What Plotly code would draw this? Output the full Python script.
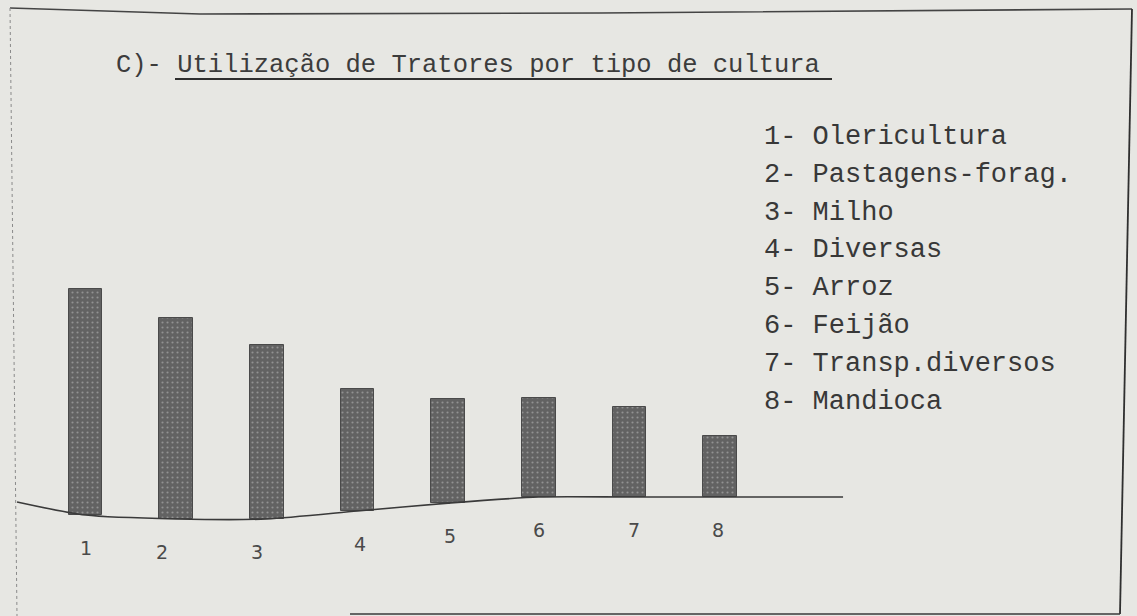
import plotly.graph_objects as go

# Tractor use by crop type (relative bar heights, no numeric scale on the sheet)
categorias = ["Olericultura", "Pastagens-forag.", "Milho", "Diversas",
              "Arroz", "Feijão", "Transp.diversos", "Mandioca"]
numeros = [1, 2, 3, 4, 5, 6, 7, 8]
utilizacao = [100, 89, 77, 54, 46, 44, 40, 27]
# sag of the hand-ruled baseline under each bar (same units as the bars)
curvatura_base = [8.0, 9.7, 9.7, 6.2, 2.7, 0.0, 0.0, 0.0]

W, H = 1137, 616
PAPER = "#e7e7e3"
INK = "#3a3a3a"
MONO = "Liberation Mono, DejaVu Sans Mono, monospace"


def px(x, y):
    """Page pixel -> paper fraction."""
    return x / W, 1 - y / H


fig = go.Figure()

# bars, each standing on the curved baseline
fig.add_trace(go.Bar(
    x=numeros,
    y=utilizacao,
    base=[-s for s in curvatura_base],
    width=0.37,
    marker=dict(
        color="#656565",
        line=dict(color="#4a4a4a", width=1),
        pattern=dict(shape=".", fgcolor="#929292", bgcolor="#626262",
                     size=5, solidity=0.14, fillmode="replace"),
    ),
    hoverinfo="skip",
    showlegend=False,
))

# hand-drawn baseline
x_ini, x_fim = 0.244, 9.357
fig.add_trace(go.Scatter(
    x=[x_ini] + numeros + [x_fim],
    y=[-2.2] + [-s for s in curvatura_base] + [0.0],
    mode="lines",
    line=dict(color=INK, width=1.6, shape="spline", smoothing=0.7),
    hoverinfo="skip",
    showlegend=False,
))

annotations = []

# bar numbers below the baseline
desloc_x = [0, -14, -10, 3, 2, 0, 5, -2]
for n, s, dx in zip(numeros, curvatura_base, desloc_x):
    annotations.append(dict(
        x=n, y=-s, xref="x", yref="y", text=str(n), showarrow=False,
        xshift=dx, yshift=-33, yanchor="middle",
        font=dict(family="DejaVu Sans, sans-serif", size=19, color="#4a4a4a"),
    ))

# title
tx, ty = px(114, 65)
annotations.append(dict(
    x=tx, y=ty, xref="paper", yref="paper", xanchor="left", yanchor="middle",
    text="C)- Utilização de Tratores por tipo de cultura", showarrow=False,
    font=dict(family=MONO, size=25.5, color="#3c3c3c"),
))

# numbered key
for i, (n, nome) in enumerate(zip(numeros, categorias)):
    lx, ly = px(762, 137 + i * 37.8)
    annotations.append(dict(
        x=lx, y=ly, xref="paper", yref="paper", xanchor="left", yanchor="middle",
        text=f"{n}- {nome}", showarrow=False,
        font=dict(family=MONO, size=27, color="#383838"),
    ))

shapes = []

# underline of the title
u0, uy = px(175, 79)
u1, _ = px(832, 79)
shapes.append(dict(type="line", xref="paper", yref="paper",
                   x0=u0, x1=u1, y0=uy, y1=uy,
                   line=dict(color="#2e2e2e", width=2)))


def caminho(pontos):
    partes = []
    for k, (x, y) in enumerate(pontos):
        fx, fy = px(x, y)
        partes.append(("M" if k == 0 else "L") + f"{fx:.5f},{fy:.5f}")
    return " ".join(partes)


# ruled frame around the figure
shapes.append(dict(type="path", xref="paper", yref="paper",
                   path=caminho([(10, 8), (200, 14), (600, 13), (1132, 9)]),
                   line=dict(color="#444444", width=1.6)))
shapes.append(dict(type="path", xref="paper", yref="paper",
                   path=caminho([(1132, 9), (1120, 614)]),
                   line=dict(color="#2f2f2f", width=1.8)))
shapes.append(dict(type="path", xref="paper", yref="paper",
                   path=caminho([(350, 614), (1120, 614)]),
                   line=dict(color="#3a3a3a", width=1.6)))
shapes.append(dict(type="path", xref="paper", yref="paper",
                   path=caminho([(10, 8), (17, 616)]),
                   line=dict(color="#8a8a8a", width=1, dash="dot")))

fig.update_layout(
    width=W, height=H,
    margin=dict(l=0, r=0, t=0, b=0),
    paper_bgcolor=PAPER, plot_bgcolor=PAPER,
    xaxis=dict(range=[0.056, 12.6], visible=False, fixedrange=True),
    yaxis=dict(range=[-52.65, 219.9], visible=False, fixedrange=True),
    annotations=annotations,
    shapes=shapes,
    bargap=0,
)

fig.write_html("out.html", config={"displayModeBar": False})
